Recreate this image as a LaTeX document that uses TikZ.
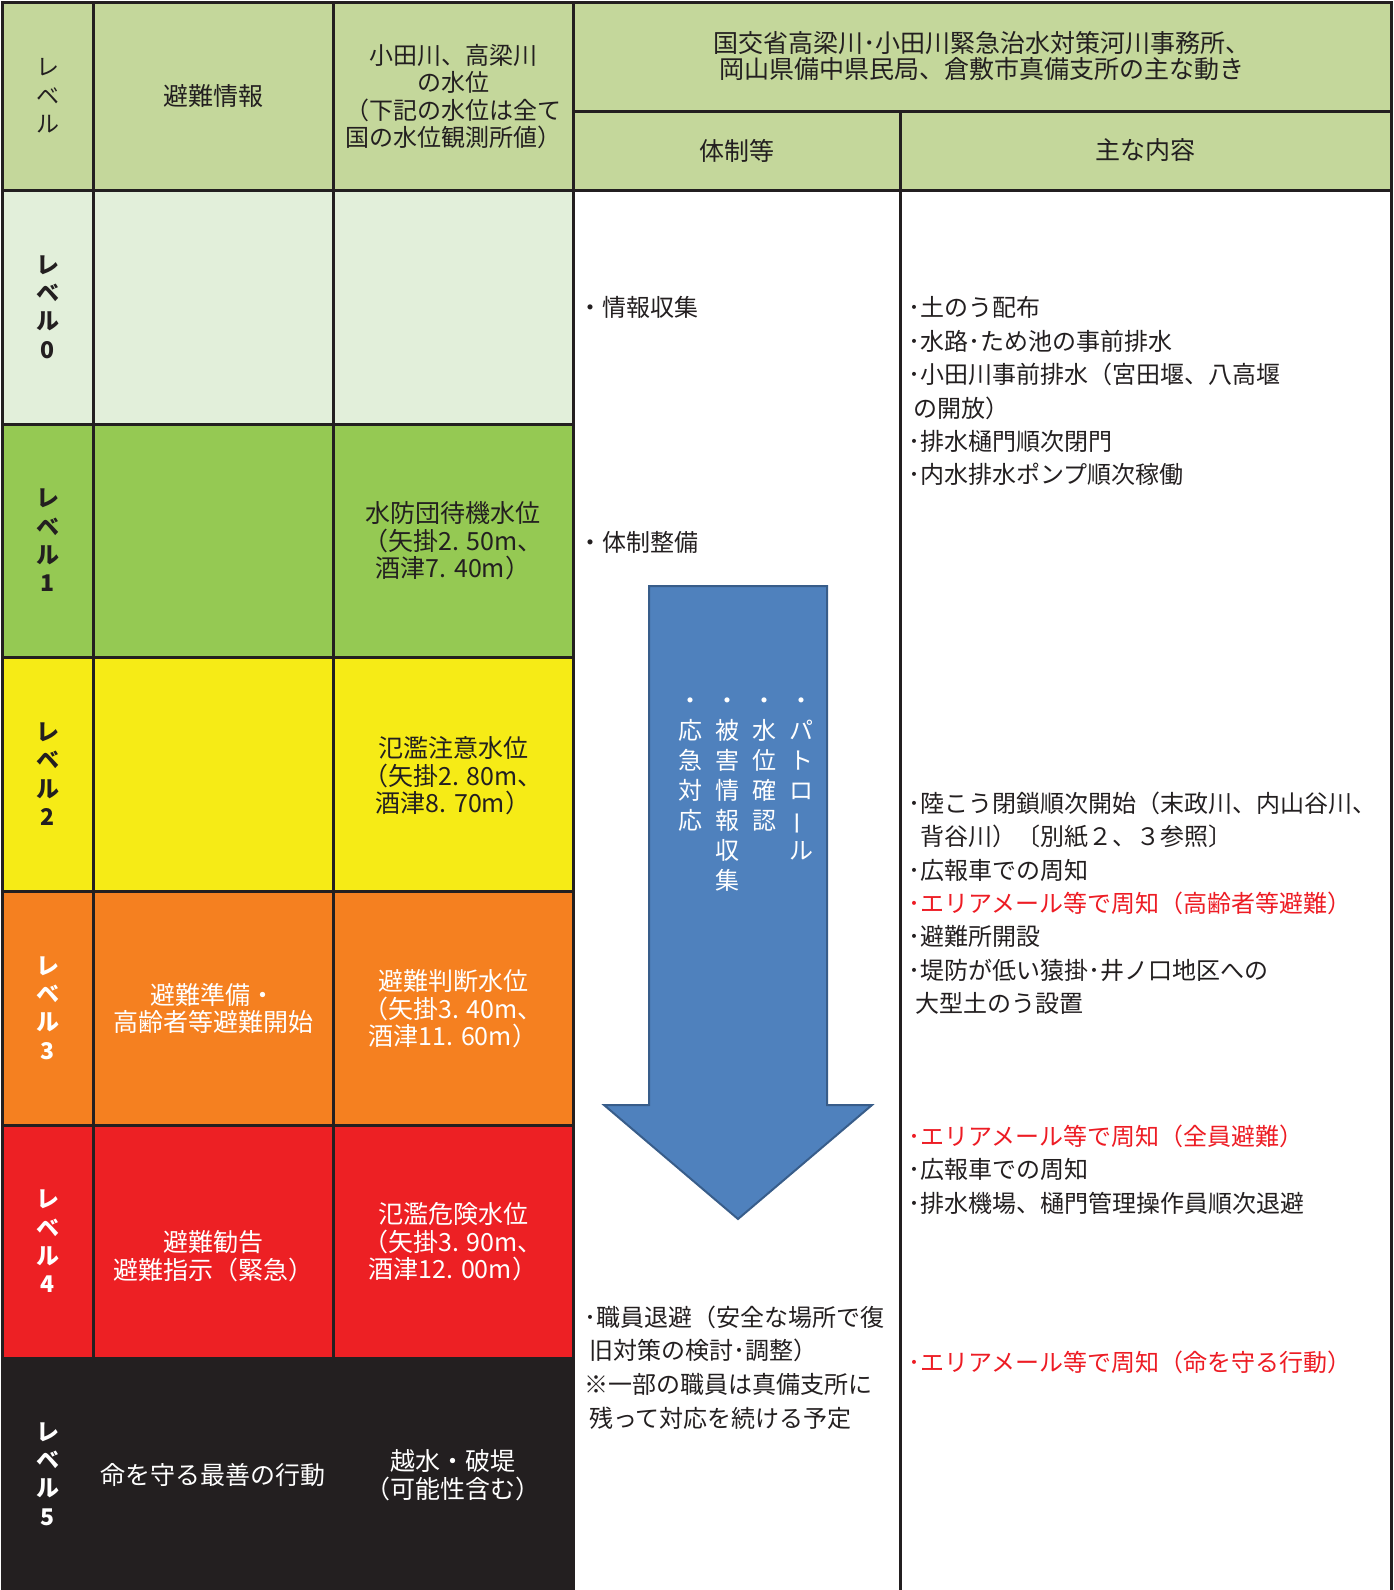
\documentclass[tikz,border=0pt]{standalone}
\usepackage{fontspec}
\setmainfont{Noto Sans CJK JP}
\usepackage{graphicx}
\definecolor{ink}{RGB}{35,31,32}
\definecolor{hdr}{RGB}{196,215,155}
\definecolor{lvzero}{RGB}{226,239,218}
\definecolor{lvone}{RGB}{149,201,83}
\definecolor{lvtwo}{RGB}{246,235,22}
\definecolor{lvthree}{RGB}{245,128,32}
\definecolor{lvfour}{RGB}{237,32,36}
\definecolor{lvfive}{RGB}{35,31,32}
\definecolor{arrowfill}{RGB}{79,129,189}
\definecolor{arrowedge}{RGB}{56,93,138}
\definecolor{alert}{RGB}{237,28,36}
\begin{document}
\begin{tikzpicture}[x=1pt,y=-1pt,
  ln/.style={line width=3pt, draw=ink, line cap=rect},
  cell/.style={inner sep=0pt, align=center, text=ink, font=\fontsize{25}{27.4}\selectfont},
  wcell/.style={cell, text=white},
  hdrtxt/.style={inner sep=0pt, align=center, text=ink, font=\fontsize{25}{26.5}\selectfont},
  lvl/.style={inner sep=0pt, align=center, text=ink, font=\fontsize{23}{28.4}\selectfont\bfseries},
  wlvl/.style={lvl, text=white},
  item/.style={inner sep=0pt, align=left, text=ink, font=\fontsize{24}{33.4}\selectfont},
  vtxt/.style={inner sep=0pt, align=center, text=white, anchor=north, font=\fontsize{24}{30}\selectfont},
]
\useasboundingbox (0,0) rectangle (1394,1590);
% fills
\fill[hdr] (2,2) rectangle (1391,190);
\fill[lvzero] (2,190) rectangle (573,424);
\fill[lvone] (2,424) rectangle (573,657);
\fill[lvtwo] (2,657) rectangle (573,891);
\fill[lvthree] (2,891) rectangle (573,1125);
\fill[lvfour] (2,1125) rectangle (573,1358);
\fill[lvfive] (2,1358) rectangle (573,1590);
% grid lines
\draw[ln] (2,2) -- (1391,2);
\draw[ln] (573,111) -- (1391,111);
\draw[ln] (2,190) -- (1391,190);
\foreach \yy in {424,657,891,1125,1358} \draw[ln] (2,\yy) -- (573,\yy);
\foreach \xx in {2,93,333,573,1391} \draw[ln] (\xx,2) -- (\xx,1590);
\draw[ln] (900,111) -- (900,1590);
% arrow
\filldraw[fill=arrowfill, draw=arrowedge, line width=2pt, line join=miter]
  (649,586) -- (827,586) -- (827,1105) -- (872,1105) -- (738,1219) -- (604,1105) -- (649,1105) -- cycle;
% header texts
\node[lvl, font=\fontsize{23}{28.4}\selectfont] (hlvl) at (47.5,96) {レ\\ベ\\ル};
\node[hdrtxt] (hinfo) at (213,96) {避難情報};
\node[hdrtxt, font=\fontsize{24}{27.2}\selectfont] (hwater) at (453,96.5) {小田川、高梁川\\の水位\\（下記の水位は全て\\国の水位観測所値）};
\node[hdrtxt] (hmain) at (982,56) {国交省高梁川･小田川緊急治水対策河川事務所、\\岡山県備中県民局、倉敷市真備支所の主な動き};
\node[hdrtxt] (hsys) at (736.5,150.5) {体制等};
\node[hdrtxt] (hcont) at (1145.5,150.5) {主な内容};
% level labels
\node[lvl] (l0) at (47.5,307) {レ\\ベ\\ル\\0};
\node[lvl] (l1) at (47.5,540.5) {レ\\ベ\\ル\\1};
\node[lvl] (l2) at (47.5,774) {レ\\ベ\\ル\\2};
\node[wlvl] (l3) at (47.5,1008) {レ\\ベ\\ル\\3};
\node[wlvl] (l4) at (47.5,1241.5) {レ\\ベ\\ル\\4};
\node[wlvl] (l5) at (47.5,1474) {レ\\ベ\\ル\\5};
% evacuation info
\node[wcell] (i3) at (213,1008.5) {避難準備・\\高齢者等避難開始};
\node[wcell] (i4) at (213,1256) {避難勧告\\避難指示（緊急）};
\node[wcell] (i5) at (213,1475) {命を守る最善の行動};
% water levels
\node[cell] (w1) at (453,541) {水防団待機水位\\（矢掛2. 50m、\\酒津7. 40m）};
\node[cell] (w2) at (453,776) {氾濫注意水位\\（矢掛2. 80m、\\酒津8. 70m）};
\node[wcell] (w3) at (453,1009) {避難判断水位\\（矢掛3. 40m、\\酒津11. 60m）};
\node[wcell] (w4) at (453,1242) {氾濫危険水位\\（矢掛3. 90m、\\酒津12. 00m）};
\node[wcell] (w5) at (453,1475) {越水・破堤\\（可能性含む）};
% system column
\node[item, anchor=west] (s0) at (578,307) {・情報収集};
\node[item, anchor=west] (s1) at (578,542) {・体制整備};
\node[item, anchor=north west, font=\fontsize{24}{33.7}\selectfont] (s4) at (584,1305.5)
  {･職員退避（安全な場所で復\\\hspace{0.2em}旧対策の検討･調整）\\※一部の職員は真備支所に\\\hspace{0.2em}残って対応を続ける予定};
% arrow text
\node[vtxt] (a1) at (801,689) {\rule{0pt}{0.83em}・\\パ\\ト\\ロ\\\rotatebox[origin=c]{90}{ー}\\ル};
\node[vtxt] (a2) at (764,689) {\rule{0pt}{0.83em}・\\水\\位\\確\\認};
\node[vtxt] (a3) at (727,689) {\rule{0pt}{0.83em}・\\被\\害\\情\\報\\収\\集};
\node[vtxt] (a4) at (690,689) {\rule{0pt}{0.83em}・\\応\\急\\対\\応};
% main content column
\node[item, anchor=north west] (c0) at (908,296.5)
  {･土のう配布\\･水路･ため池の事前排水\\･小田川事前排水（宮田堰、八高堰\\\hspace{0.2em}の開放）\\･排水樋門順次閉門\\･内水排水ポンプ順次稼働};
\node[item, anchor=north west] (c2) at (908,791.5)
  {･陸こう閉鎖順次開始（末政川、内山谷川、\\\hspace{0.5em}背谷川）〔別紙２、３参照〕\\･広報車での周知\\{\color{alert}･エリアメール等で周知（高齢者等避難）}\\･避難所開設\\･堤防が低い猿掛･井ノ口地区への\\\hspace{0.3em}大型土のう設置};
\node[item, anchor=north west] (c4) at (908,1124.5)
  {{\color{alert}･エリアメール等で周知（全員避難）}\\･広報車での周知\\･排水機場、樋門管理操作員順次退避};
\node[item, anchor=west, text=alert] (c5) at (908,1362) {･エリアメール等で周知（命を守る行動）};
\end{tikzpicture}
\end{document}
